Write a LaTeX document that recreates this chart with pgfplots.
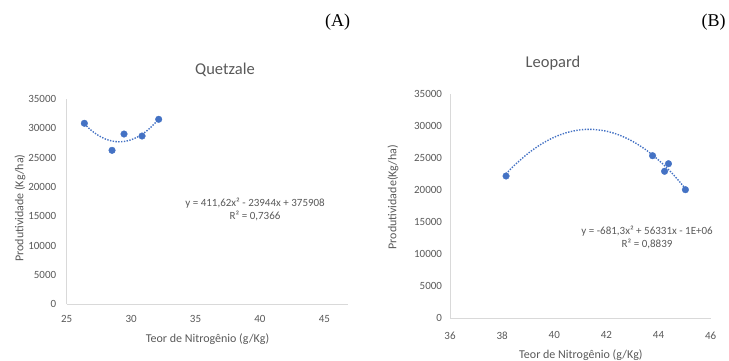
\documentclass[border=0pt]{standalone}
\usepackage{pgfplots}
\pgfplotsset{compat=1.18}
\usepackage{fontspec}
\setmainfont{Carlito}
\newfontfamily\timesfont{Liberation Serif}
\definecolor{txt}{HTML}{595959}
\definecolor{axl}{HTML}{D9D9D9}
\definecolor{xblue}{HTML}{4472C4}
\pgfplotsset{
  excel/.style={
    scale only axis,
    axis lines=left,
    axis line style={-, draw=axl, line width=0.9bp},
    major tick length=0pt,
    tick style={draw=none},
    ymin=0, ymax=35000,
    ytick={0,5000,10000,15000,20000,25000,30000,35000},
    scaled y ticks=false,
    scaled x ticks=false,
    /pgf/number format/assume math mode=true,
    /pgf/number format/1000 sep={},
    ticklabel style={font=\fontsize{11bp}{13bp}\selectfont, text=txt},
    label style={font=\fontsize{12bp}{14bp}\selectfont, text=txt},
    title style={font=\fontsize{16.5bp}{19bp}\selectfont, text=txt},
    clip=false,
  },
  pts/.style={only marks, mark=*, mark size=3.3bp, mark options={draw=xblue, fill=xblue}},
  trend/.style={no marks, smooth, draw=xblue, line width=1.4bp, dash pattern=on 1.4bp off 1.4bp},
}
\tikzset{eq/.style={align=center, font=\fontsize{11bp}{13bp}\selectfont, text=txt}}
\begin{document}
\begin{tikzpicture}
\path[use as bounding box] (0,0) rectangle (729bp,-361bp);
\node[font=\timesfont\fontsize{18bp}{20bp}\selectfont] at (337.5bp,-22.5bp) {(A)};
\node[font=\timesfont\fontsize{18bp}{20bp}\selectfont] at (713.5bp,-22.5bp) {(B)};

\begin{axis}[excel,
  at={(66.7bp,-304.3bp)}, anchor=south west,
  width=281.6bp, height=205.3bp,
  xmin=25, xmax=46.86,
  xtick={25,30,35,40,45},
  xticklabel style={yshift=-7.5bp},
  yticklabel style={xshift=-7bp},
  title={Quetzale},
  title style={at={(axis description cs:0.562,1.112)}, anchor=center},
  xlabel={Teor de Nitrogênio (g/Kg)},
  xlabel style={at={(axis description cs:0.5,-0.169)}, anchor=center},
  ylabel={Produtividade (Kg/ha)},
  ylabel style={at={(axis description cs:-0.166,0.469)}, anchor=center},
]
\addplot[trend] coordinates {
 (26.37,30735) (27,29490) (27.5,28735) (28,28186) (28.5,27842) (29,27704)
 (29.5,27772) (30,28046) (30.5,28525) (31,29211) (31.5,30102) (32.14,31543)
};
\addplot[pts] coordinates {
 (26.37,30860) (28.52,26250) (29.45,29030) (30.85,28690) (32.14,31540)
};
\node[eq] at (axis description cs:0.669,0.461) {y = 411,62x² - 23944x + 375908\\R² = 0,7366};
\end{axis}

\begin{axis}[excel,
  at={(450bp,-318.3bp)}, anchor=south west,
  width=260.7bp, height=224bp,
  xmin=36, xmax=46,
  xtick={36,38,40,42,44,46},
  xticklabel style={yshift=-10bp},
  yticklabel style={xshift=-4.5bp},
  title={Leopard},
  title style={at={(axis description cs:0.395,1.113)}, anchor=center},
  xlabel={Teor de Nitrogênio (g/Kg)},
  xlabel style={at={(axis description cs:0.502,-0.164)}, anchor=center},
  ylabel={Produtividade(Kg/ha)},
  ylabel style={at={(axis description cs:-0.219,0.5415)}, anchor=center},
]
\addplot[trend] coordinates {
 (38.15,22580) (38.5,24019) (39,25787) (39.5,27213) (40,28299) (40.5,29045)
 (41,29449) (41.344,29530) (41.5,29513) (42,29237) (42.5,28620) (43,27662)
 (43.5,26363) (44,24724) (44.5,22744) (45.03,20273)
};
\addplot[pts] coordinates {
 (38.15,22234) (43.77,25406) (44.23,22969) (44.38,24156) (45.03,20094)
};
\node[eq] at (axis description cs:0.756,0.363) {y = -681,3x² + 56331x - 1E+06\\R² = 0,8839};
\end{axis}
\end{tikzpicture}
\end{document}
